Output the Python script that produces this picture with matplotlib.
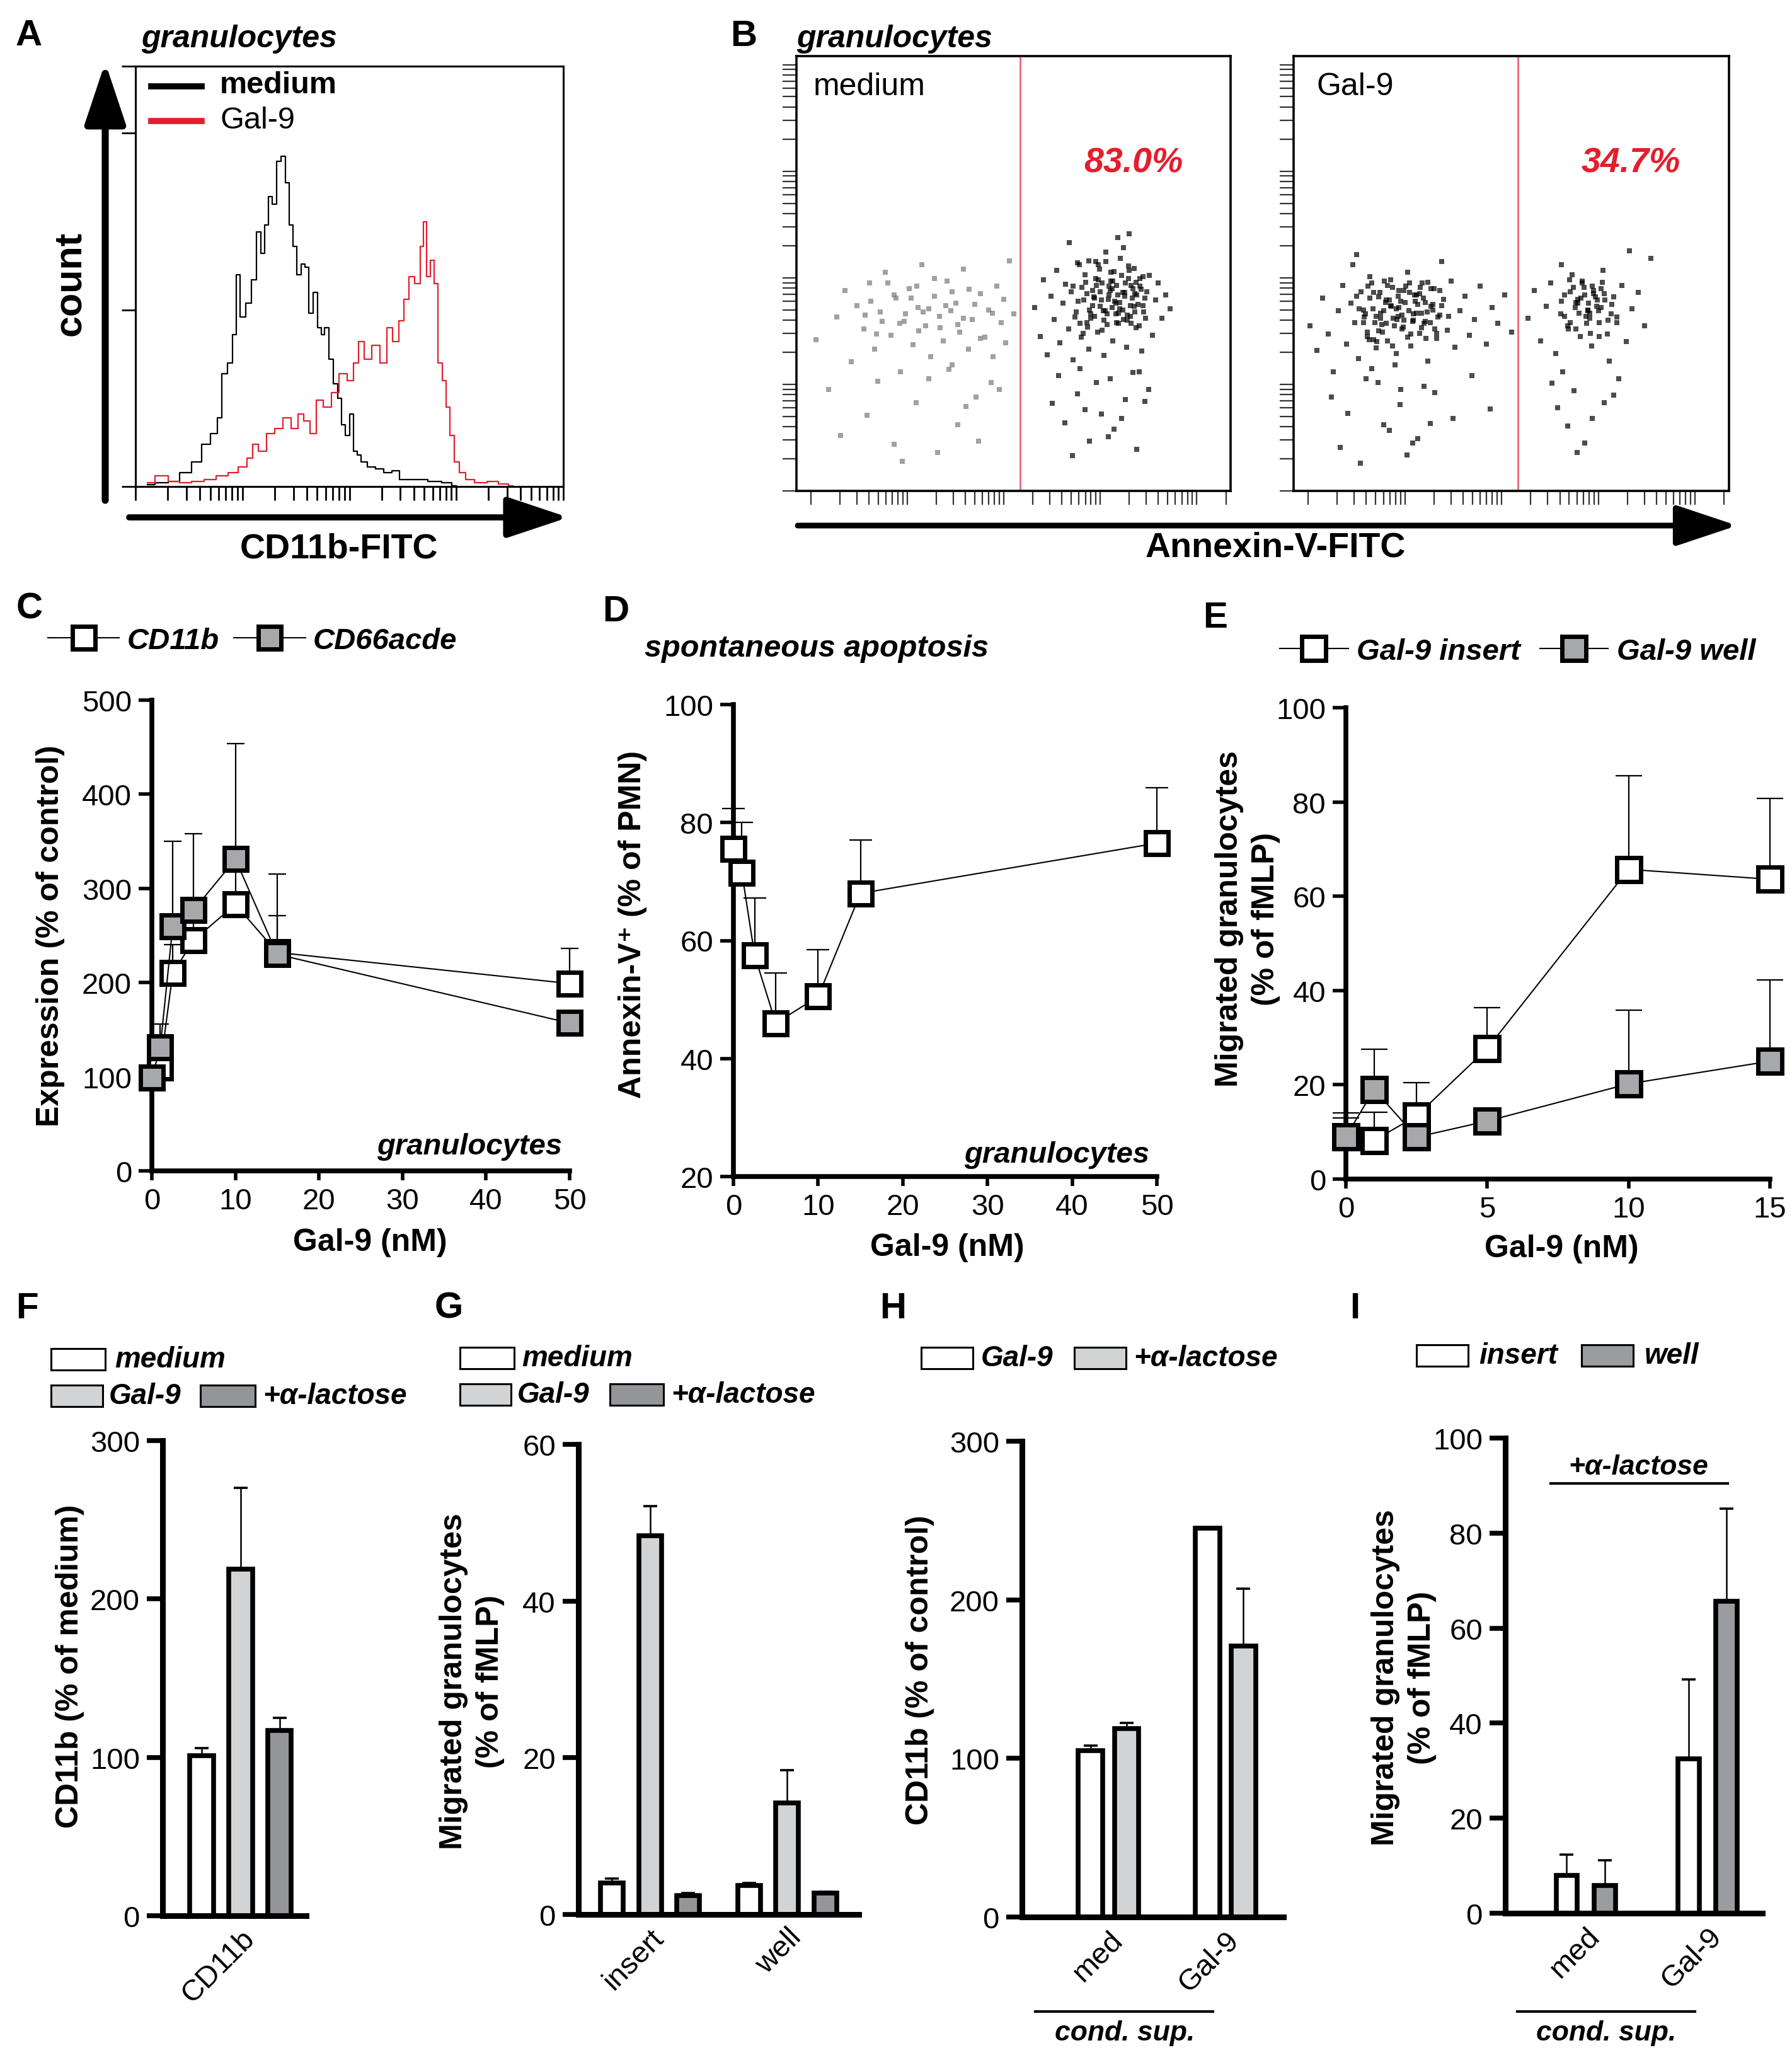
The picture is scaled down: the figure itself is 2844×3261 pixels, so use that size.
import numpy as np
import matplotlib
matplotlib.use("Agg")
import matplotlib.pyplot as plt
from matplotlib.patches import Rectangle, FancyArrowPatch
from matplotlib.lines import Line2D

W, H = 2844, 3262
plt.rcParams['font.family'] = ['Liberation Sans', 'DejaVu Sans']

# ---- A: CD11b histogram (x in log decades) ----
count_x_medium = [0.11,0.25,0.36,0.47,0.58,0.66,0.74,0.79,0.83,0.89,0.92,0.96,1.00,1.06,1.11,1.15,1.19,1.23,1.26,1.30,
                  1.34,1.38,1.42,1.45,1.49,1.53,1.57,1.60,1.64,1.68,1.72,1.75,1.79,1.83,1.87,1.91,1.94,1.98,2.02,2.06,
                  2.09,2.13,2.21,2.28,2.36,2.43,2.51,2.66,2.81,2.92,3.00]
count_medium = [0.5,1,1.5,4,7,12,15,19.5,32,35,43,60,48,52,58.5,72,66,74,82,80,
                92,93.5,86,74,68,60,63,62,49,55,45,43,45,36,29,25,17.5,14.5,20.5,10,
                9,7,5.5,5,4,4.5,2,2,1.5,1,0.2]
count_x_gal9 = [0.11,0.25,0.36,0.47,0.58,0.70,0.81,0.92,1.00,1.08,1.11,1.19,1.26,1.34,1.42,1.49,1.55,1.60,1.66,1.72,
                1.79,1.87,1.94,2.02,2.06,2.11,2.17,2.25,2.32,2.38,2.43,2.49,2.53,2.58,2.64,2.68,2.70,2.74,2.77,2.81,
                2.85,2.89,2.92,2.96,3.00,3.06,3.11,3.23,3.34,3.45,3.53]
count_gal9 = [1,3,1.5,1,1.5,2,3,4,5.5,8,12,10,15,16.5,19.5,16.5,20.5,18.5,15,24.5,
              22.5,26.5,32,30,35,41,36,40,35,45,41,47,53,59.5,57.5,68,75,59.5,64,57.5,
              35,30,22.5,14.5,7,4,2,1,1.5,0.8,0.2]

# ---- B: Annexin-V dot plots (log decades) ----
med_neg_x = [0.05,0.18,0.27,0.35,0.42,0.48,0.55,0.61,0.66,0.72,0.77,0.83,0.88,0.93,0.97,1.02,1.06,1.11,1.15,1.19,
             1.24,1.28,1.33,1.37,1.41,1.46,1.50,1.54,1.58,1.63,1.67,1.71,1.76,1.80,1.84,1.89,1.93,1.97,2.02,2.06,
             2.10,0.31,0.58,0.86,1.09,1.31,1.52,1.74,1.95,0.69,1.22,1.61,0.95,1.43,1.87,
             0.62,0.74,0.86,0.98,1.10,1.22,1.34,1.46,1.58,1.70,0.68,0.80,0.92,1.04,1.16,1.28,1.40,1.52,1.64,1.76,
             1.88,2.00,0.56,1.12,1.45]
med_neg_y = [1.42,0.95,1.63,1.88,1.21,1.74,1.52,1.95,1.33,1.68,2.05,1.46,1.81,1.12,1.59,1.90,1.37,1.72,2.12,1.55,
             1.26,1.83,1.64,1.41,1.97,1.18,1.76,1.49,2.08,1.33,1.61,0.88,1.85,1.44,1.70,1.26,1.92,1.58,1.39,2.16,
             1.66,0.52,0.71,0.44,0.83,0.36,0.62,0.47,0.95,1.03,1.05,0.79,0.28,1.14,1.02,
             1.78,1.59,1.84,1.66,1.92,1.71,1.53,1.87,1.62,1.75,1.47,1.95,1.57,1.81,1.68,1.99,1.74,1.56,1.89,1.43,
             1.67,1.80,1.65,1.50,1.69]
med_pos_x = [2.32,2.38,2.41,2.45,2.49,2.52,2.55,2.58,2.61,2.64,2.67,2.70,2.72,2.75,2.78,2.80,2.83,2.85,2.88,2.90,
             2.92,2.95,2.97,3.00,3.02,3.04,3.07,3.09,3.11,3.13,3.15,3.17,3.19,3.21,3.23,3.25,3.27,3.29,3.31,3.33,
             3.35,3.37,3.39,3.41,3.43,3.45,3.48,3.51,3.54,3.57,3.60,3.64,3.68,3.72,2.86,2.94,3.03,3.12,3.20,3.28,
             3.36,3.44,2.98,3.16,3.32,3.06,3.24,2.79,3.40,3.10,2.50,2.63,2.76,2.89,3.01,3.14,3.26,3.38,3.50,2.57,
             2.71,2.84,2.96,3.08,3.22,3.34,3.46,2.68,3.18,3.30,
             2.74,2.81,2.87,2.93,2.99,3.05,3.11,3.17,3.23,3.29,3.35,3.41,3.47,2.77,2.84,2.90,2.96,3.02,3.08,3.14,
             3.20,3.26,3.32,3.38,3.44,2.72,2.79,2.86,2.92,2.98,3.04,3.10,3.16,3.22,3.28,3.34,3.40,3.46,2.82,2.89,
             2.95,3.01,3.07,3.13,3.19,3.25,3.31,3.37,2.76,2.88,3.00,3.12,3.24,3.36,2.94,3.06,3.18,3.30,3.42,3.09]
med_pos_y = [1.72,1.45,1.98,1.28,1.83,1.61,2.07,1.39,1.76,1.94,1.52,1.87,1.23,1.68,2.12,1.44,1.79,1.96,1.33,1.62,
             1.88,2.15,1.49,1.73,1.95,1.27,1.66,1.84,2.05,1.41,1.78,1.93,1.57,2.18,1.70,1.86,1.35,1.99,1.64,1.81,
             2.09,1.53,1.75,1.92,1.31,1.68,1.87,2.02,1.46,1.79,1.95,1.62,1.84,1.71,1.58,1.81,1.69,1.90,1.77,1.60,
             1.85,1.74,1.98,1.66,1.93,2.24,2.28,1.15,1.12,1.05,0.82,0.64,0.91,0.47,0.72,0.58,0.86,0.39,0.95,1.08,
             0.33,0.76,1.02,0.51,0.68,1.11,0.84,2.33,2.38,2.41,
             1.63,1.91,1.54,1.82,2.08,1.69,1.97,1.58,1.86,2.11,1.73,1.99,1.62,1.78,2.03,1.66,1.93,1.51,1.80,2.06,
             1.71,1.95,1.57,1.84,2.01,1.92,1.57,1.85,1.74,2.12,1.60,1.88,1.76,2.02,1.65,1.90,1.55,1.81,1.48,1.70,
             1.99,1.79,1.56,1.97,1.67,1.83,1.74,1.96,2.14,2.16,1.87,1.72,1.61,1.68,1.64,2.15,1.84,2.07,1.89,1.92]
gal_neg_x = [0.02,0.09,0.15,0.21,0.26,0.31,0.36,0.40,0.44,0.48,0.52,0.55,0.58,0.61,0.64,0.67,0.70,0.73,0.76,0.79,
             0.82,0.85,0.88,0.91,0.94,0.97,1.00,1.03,1.06,1.09,1.12,1.15,1.18,1.21,1.24,1.27,1.30,1.33,1.36,1.40,
             1.44,1.48,1.52,1.57,1.62,1.67,1.72,1.78,1.84,1.90,1.96,2.03,2.10,0.57,0.69,0.81,0.93,1.05,1.17,1.29,
             0.63,0.75,0.87,0.99,1.11,1.23,0.46,1.38,0.72,0.96,0.24,0.41,0.60,0.78,0.95,1.13,1.31,1.50,1.69,1.88,
             0.33,0.54,0.84,1.02,1.26,0.66,1.08,0.90,1.20,0.50,
             0.53,0.61,0.68,0.75,0.82,0.89,0.96,1.03,1.10,1.17,1.24,1.31,1.38,0.57,0.64,0.71,0.78,0.85,0.92,0.99,
             1.06,1.13,1.20,1.27,1.34,0.50,0.59,0.66,0.73,0.80,0.87,0.94,1.01,1.08,1.15,1.22,1.29,1.36,0.62,0.70,
             0.77,0.84,0.91,0.98,1.05,1.12,1.19,1.26,0.74,0.86,0.97,1.09,1.21,1.33,0.68,0.81,0.93,1.04,1.16,1.45]
gal_neg_y = [1.55,1.32,1.81,1.47,1.12,1.69,1.93,1.38,1.76,1.58,1.24,1.87,1.63,1.45,2.01,1.71,1.34,1.82,1.56,1.97,
             1.41,1.74,1.62,1.29,1.88,1.52,1.77,2.05,1.36,1.66,1.84,1.48,1.95,1.59,1.22,1.73,1.90,1.43,1.65,1.80,
             1.51,1.97,1.35,1.69,1.83,1.46,1.61,1.92,1.38,1.72,1.57,1.84,1.49,1.70,1.58,1.79,1.64,1.86,1.53,1.75,
             1.42,1.67,1.91,1.60,1.78,1.68,2.12,2.15,1.02,0.95,0.88,0.73,1.05,0.62,0.81,0.49,0.92,0.68,1.08,0.77,
             0.41,0.26,0.57,0.34,0.63,1.15,0.45,1.18,0.98,2.22,
             1.71,1.49,1.86,1.62,1.93,1.55,1.78,1.44,1.84,1.67,1.96,1.52,1.74,1.58,1.81,1.40,1.69,1.98,1.61,1.88,
             1.47,1.75,1.57,1.90,1.63,1.83,1.66,1.95,1.50,1.77,1.36,1.72,1.92,1.59,1.85,1.43,1.70,1.88,1.92,1.64,
             1.49,1.79,1.71,1.54,1.95,1.67,1.81,1.58,1.86,1.73,1.65,1.60,1.77,1.48,1.42,1.57,1.83,1.69,1.91,1.64]
gal_pos_x = [2.27,2.34,2.40,2.46,2.51,2.56,2.61,2.65,2.69,2.73,2.77,2.81,2.85,2.89,2.93,2.97,3.01,3.05,3.09,3.14,
             3.19,3.24,3.29,3.35,3.41,3.48,3.54,2.79,2.87,2.95,3.03,2.71,2.83,2.91,2.99,3.11,2.63,3.21,2.75,2.58,
             2.68,2.86,3.06,2.52,2.94,3.16,2.78,3.32,2.62,2.90,
             2.62,2.68,2.74,2.80,2.86,2.92,2.98,3.04,3.10,3.16,2.65,2.71,2.77,2.83,2.89,2.95,3.01,3.07,3.13,3.19,
             2.70,2.76,2.82,2.88,2.94,3.00,3.06,2.79,2.91,3.03]
gal_pos_y = [1.62,1.88,1.41,1.73,1.95,1.29,1.66,1.84,1.52,2.03,1.77,1.45,1.91,1.69,1.36,1.82,1.58,2.07,1.47,1.75,
             1.63,1.93,1.40,1.71,1.86,1.55,2.18,1.80,1.64,1.85,1.72,1.58,1.97,1.67,1.79,1.22,1.12,1.05,0.94,0.78,
             0.61,0.45,0.83,1.01,0.68,0.90,0.36,2.25,2.12,1.76,
             1.78,1.55,1.91,1.67,1.84,1.48,1.73,1.96,1.60,1.82,1.64,1.87,1.52,1.95,1.70,1.88,1.45,1.79,1.66,1.58,
             1.98,1.72,1.81,1.57,1.92,1.69,1.85,1.76,1.62,1.90]
gate = 2.17
pct_medium, pct_gal9 = "83.0%", "34.7%"

# ---- C ----
gal9_c = [0, 1, 2.5, 5, 10, 15, 50]
cd11b_mean = [99, 110, 210, 245, 283, 232, 199]
cd11b_err = [5, 20, 30, 25, 40, 39, 37]
cd66_mean = [99, 131, 260, 277, 331, 230, 157]
cd66_err = [5, 25, 90, 81, 123, 85, 10]

# ---- D ----
gal9_d = [0, 1, 2.5, 5, 10, 15, 50]
annexin_mean = [75.5, 71.5, 57.5, 46, 50.5, 68, 76.5]
annexin_err = [6.9, 8.5, 9.7, 8.5, 7.9, 9, 9.4]

# ---- E ----
gal9_e = [0, 1, 2.5, 5, 10, 15]
insert_mean = [9, 8.2, 13.4, 27.7, 65.7, 63.6]
insert_err = [5, 6, 7, 8.6, 19.8, 17.2]
well_mean = [9, 19, 8.9, 12.3, 20.2, 25]
well_err = [4, 8.5, 2, 2, 15.6, 17.2]

# ---- F ----
f_vals = [101, 219, 117]
f_err = [5, 51, 8]
# ---- G ----
g_groups = ['insert', 'well']
g_medium = [4.0, 3.7]
g_medium_err = [0.6, 0.3]
g_gal9 = [48.3, 14.2]
g_gal9_err = [3.8, 4.2]
g_lact = [2.4, 2.7]
g_lact_err = [0.3, 0.2]
# ---- H ----
h_groups = ['med', 'Gal-9']
h_gal9 = [105, 245]
h_gal9_err = [3, 0]
h_lact = [119, 171]
h_lact_err = [3.5, 36]
# ---- I ----
i_groups = ['med', 'Gal-9']
i_insert = [7.9, 32.5]
i_insert_err = [4.4, 16.7]
i_well = [5.8, 65.7]
i_well_err = [5.4, 19.4]

WHITE, LIGHT, DARK, MID = 'white', '#D1D3D4', '#939598', '#9A9C9F'
MARK_GRAY = '#A6A8AB'
RED = '#E31E2D'

fig = plt.figure(figsize=(W / 100, H / 100), dpi=100)


def rect(l, r, t, b):
    return [l / W, 1 - b / H, (r - l) / W, (b - t) / H]


def txt(x, y, s, **kw):
    kw.setdefault('ha', 'center')
    kw.setdefault('va', 'center')
    fig.text(x / W, 1 - y / H, s, **kw)


def hline(x0, x1, y, lw=3, color='k'):
    fig.add_artist(Line2D([x0 / W, x1 / W], [1 - y / H, 1 - y / H], transform=fig.transFigure, lw=lw, color=color))


def arrow(x0, y0, x1, y1, lw):
    fig.add_artist(FancyArrowPatch((x0 / W, 1 - y0 / H), (x1 / W, 1 - y1 / H), transform=fig.transFigure,
                                   arrowstyle='-|>,head_length=0.6,head_width=0.2', mutation_scale=100,
                                   lw=lw, color='k', shrinkA=0, shrinkB=0))


def legbox(x0, x1, y, color, label, tx):
    fig.add_artist(Rectangle((x0 / W, 1 - (y + 17) / H), (x1 - x0) / W, 34 / H, transform=fig.transFigure,
                             facecolor=color, edgecolor='k', lw=2.2))
    txt(tx, y, label, ha='left', fontsize=33, fontweight='bold', fontstyle='italic')


def prism(ax, spine_lw, ylen, xlen, tw):
    for s in ['top', 'right']:
        ax.spines[s].set_visible(False)
    for s in ['left', 'bottom']:
        ax.spines[s].set_linewidth(spine_lw)
    ax.tick_params(direction='out', labelsize=34, width=tw, pad=8)
    ax.tick_params(axis='y', length=ylen)
    ax.tick_params(axis='x', length=xlen)


LET = dict(fontsize=42, fontweight='bold')
LAB = dict(fontsize=36, fontweight='bold')
BI = dict(fontweight='bold', fontstyle='italic')
LEGPROP = dict(size=34, weight='bold', style='italic')

# ================= A =================
axA = fig.add_axes(rect(215, 894, 106, 773))
axA.plot(count_x_medium, count_medium, color='k', lw=1.6, drawstyle='steps-mid')
axA.plot(count_x_gal9, count_gal9, color=RED, lw=1.6, drawstyle='steps-mid')
axA.set_xlim(0, 4)
axA.set_ylim(0, 119)
axA.set_xticks([np.log10(m) + k for k in range(4) for m in range(1, 10)] + [4])
axA.set_yticks([0, 50, 100, 119])
axA.set_xticklabels([])
axA.set_yticklabels([])
axA.tick_params(direction='out', length=16, width=2)
for s in axA.spines.values():
    s.set_linewidth(2.2)
hline(240, 320, 138, lw=7, color='k')
hline(240, 320, 193, lw=7, color=RED)
txt(349, 136, 'medium', ha='left', fontsize=35, fontweight='bold')
txt(349, 191, 'Gal-9', ha='left', fontsize=35)
txt(112, 450, 'count', rotation=90, fontsize=44, fontweight='bold')
txt(538, 871, 'CD11b-FITC', fontsize=40, fontweight='bold')
txt(224, 62, 'granulocytes', ha='left', fontsize=36, **BI)
txt(46, 57, 'A', **LET)
arrow(167, 795, 167, 100, 8)
arrow(205, 822, 902, 822, 7)

# ================= B =================
dec_ticks = [np.log10(m) + k for k in range(5) for m in range(1, 10)]
for l, r, nx, ny, px_, py_, name, pct, tx in [
        (1264, 1953, med_neg_x, med_neg_y, med_pos_x, med_pos_y, 'medium', pct_medium, 1291),
        (2053, 2744, gal_neg_x, gal_neg_y, gal_pos_x, gal_pos_y, 'Gal-9', pct_gal9, 2089)]:
    ax = fig.add_axes(rect(l, r, 90, 780))
    neg_color = '#7A7A7A' if name == 'medium' else 'k'
    ax.scatter(nx, ny, s=30, marker='s', color=neg_color, lw=0, alpha=0.7)
    ax.scatter(px_, py_, s=30, marker='s', color='k', lw=0, alpha=0.7)
    ax.axvline(gate, color='#F06478', lw=2)
    ax.set_xlim(-0.15, 4.35)
    ax.set_ylim(0, 4.08)
    ax.set_xticks([t for t in dec_ticks if -0.15 <= t <= 4.35])
    ax.set_yticks([t for t in dec_ticks if t <= 4.08])
    ax.set_xticklabels([])
    ax.set_yticklabels([])
    ax.tick_params(direction='out', length=16, width=1.6, color='#333333')
    for s in ax.spines.values():
        s.set_linewidth(2.6)
    txt(tx, 138, name, ha='left', fontsize=36)
    txt((l + r) / 2 + 190, 260, pct, fontsize=40, color=RED, **BI)
txt(1264, 62, 'granulocytes', ha='left', fontsize=36, **BI)
txt(1180, 58, 'B', **LET)
txt(2024, 869, 'Annexin-V-FITC', fontsize=40, fontweight='bold')
arrow(1266, 835, 2757, 835, 6.5)

# ================= C =================
axC = fig.add_axes(rect(241, 904, 1112, 1859))


def series(ax, x, y, e, face, z, ms=26, cap=10):
    eb = ax.errorbar(x, y, yerr=[np.zeros(len(e)), e], fmt='none', ecolor='k', elinewidth=1.6,
                     capsize=cap, capthick=1.6, zorder=z)
    for a in eb.get_children():
        a.set_clip_on(False)
    ax.plot(x, y, color='k', lw=1.5, zorder=z, clip_on=False)
    ax.plot(x, y, ls='none', marker='s', ms=ms, mfc=face, mec='k', mew=5, zorder=z + 0.5, clip_on=False)
    return Line2D([], [], color='k', lw=1.5, marker='s', ms=ms, mfc=face, mec='k', mew=5)


hC1 = series(axC, gal9_c, cd11b_mean, cd11b_err, 'white', 3)
hC2 = series(axC, gal9_c, cd66_mean, cd66_err, MARK_GRAY, 5)
axC.set_xlim(0, 50)
axC.set_ylim(0, 500)
axC.set_xticks(range(0, 51, 10))
axC.set_yticks(range(0, 501, 100))
prism(axC, 5.5, 15, 11, 4)
fig.legend([hC1, hC2], ['CD11b', 'CD66acde'], loc='center left', bbox_to_anchor=(76 / W, 1 - 1018 / H),
           ncol=2, frameon=False, prop=LEGPROP, handlelength=2.4, handletextpad=0.26,
           columnspacing=0.5, borderpad=0, borderaxespad=0)
txt(892, 1820, 'granulocytes', ha='right', fontsize=34, **BI)
txt(47, 967, 'C', **LET)
txt(80, 1485, 'Expression (% of control)', rotation=90, **LAB)
txt(587, 1972, 'Gal-9 (nM)', **LAB)

# ================= D =================
axD = fig.add_axes(rect(1164, 1836, 1119, 1868))
series(axD, gal9_d, annexin_mean, annexin_err, 'white', 3, cap=13)
axD.set_xlim(0, 50)
axD.set_ylim(20, 100)
axD.set_xticks(range(0, 51, 10))
axD.set_yticks(range(20, 101, 20))
prism(axD, 5.5, 15, 11, 4)
txt(977, 971, 'D', **LET)
txt(1023, 1029, 'spontaneous apoptosis', ha='left', fontsize=35, **BI)
txt(1824, 1833, 'granulocytes', ha='right', fontsize=34, **BI)
txt(1004, 1467, 'Annexin-V\u207a (% of PMN)', rotation=90, **LAB)
txt(1503, 1980, 'Gal-9 (nM)', **LAB)

# ================= E =================
axE = fig.add_axes(rect(2136, 2809, 1124, 1872))
hE1 = series(axE, gal9_e, insert_mean, insert_err, 'white', 3, ms=27, cap=15)
hE2 = series(axE, gal9_e, well_mean, well_err, MARK_GRAY, 5, ms=27, cap=15)
axE.set_xlim(0, 15)
axE.set_ylim(0, 100)
axE.set_xticks([0, 5, 10, 15])
axE.set_yticks(range(0, 101, 20))
prism(axE, 5.5, 15, 11, 4)
fig.legend([hE1, hE2], ['Gal-9 insert', 'Gal-9 well'], loc='center left', bbox_to_anchor=(2031 / W, 1 - 1035 / H),
           ncol=2, frameon=False, prop=LEGPROP, handlelength=2.3, handletextpad=0.28,
           columnspacing=0.66, borderpad=0, borderaxespad=0)
txt(1929, 981, 'E', **LET)
txt(1980, 1458, 'Migrated granulocytes\n(% of fMLP)', rotation=90, linespacing=1.35, **LAB)
txt(2478, 1982, 'Gal-9 (nM)', **LAB)


# ================= bar panels =================
def bar_panel(ax, series_list, gap, width, xlim, ylim, yticks, ticks, labels):
    for i, (vals, errs, color) in enumerate(series_list):
        x = [g * gap + i for g in range(len(vals))]
        ax.errorbar(x, vals, yerr=[np.zeros(len(vals)), errs], fmt='none', ecolor='k',
                    elinewidth=1.8, capsize=8, capthick=2.6, zorder=1)
        ax.bar(x, vals, width, color=color, edgecolor='k', lw=5.5, zorder=2)
    ax.set_xlim(*xlim)
    ax.set_ylim(*ylim)
    ax.set_yticks(yticks)
    prism(ax, 6.5, 18, 0, 5.5)
    ax.set_xticks(ticks)
    ax.set_xticklabels(labels, rotation=45, ha='right', rotation_mode='anchor', fontsize=34)
    ax.tick_params(axis='x', pad=10)


axF = fig.add_axes(rect(258, 486, 2287, 3041))
bar_panel(axF, [([f_vals[0]], [f_err[0]], WHITE)], 1, 0.6, (-1.0, 2.68), (0, 300), range(0, 301, 100), [1], ['CD11b'])
for i, c in [(1, LIGHT), (2, DARK)]:
    axF.errorbar([i], [f_vals[i]], yerr=[[0], [f_err[i]]], fmt='none', ecolor='k', elinewidth=1.8,
                 capsize=8, capthick=2.6, zorder=1)
    axF.bar([i], [f_vals[i]], 0.6, color=c, edgecolor='k', lw=5.5, zorder=2)
legbox(81, 167, 2158, WHITE, 'medium', 182)
legbox(81, 163, 2216, LIGHT, 'Gal-9', 173)
legbox(318, 405, 2216, DARK, '+\u03b1-lactose', 417)
txt(43, 2077, 'F', **LET)
txt(111, 2644, 'CD11b (% of medium)', rotation=90, **LAB)

axG = fig.add_axes(rect(918, 1363, 2293, 3039))
bar_panel(axG, [(g_medium, g_medium_err, WHITE), (g_gal9, g_gal9_err, LIGHT), (g_lact, g_lact_err, DARK)],
          3.6, 0.6, (-0.88, 6.48), (0, 60), range(0, 61, 20), [1, 4.6], g_groups)
legbox(730, 816, 2156, WHITE, 'medium', 828)
legbox(730, 811, 2214, LIGHT, 'Gal-9', 821)
legbox(968, 1053, 2214, DARK, '+\u03b1-lactose', 1065)
txt(712, 2077, 'G', **LET)
txt(749, 2668, 'Migrated granulocytes\n(% of fMLP)', rotation=90, linespacing=1.35, **LAB)

axH = fig.add_axes(rect(1622, 2037, 2288, 3043))
bar_panel(axH, [(h_gal9, h_gal9_err, WHITE), (h_lact, h_lact_err, LIGHT)],
          3.25, 0.68, (-1.91, 5.37), (0, 300), range(0, 301, 100), [0.5, 3.75], h_groups)
legbox(1462, 1544, 2156, WHITE, 'Gal-9', 1557)
legbox(1705, 1787, 2156, LIGHT, '+\u03b1-lactose', 1799)
txt(1417, 2077, 'H', **LET)
txt(1460, 2650, 'CD11b (% of control)', rotation=90, **LAB)
hline(1643, 1925, 3193, lw=3)
txt(1785, 3227, 'cond. sup.', fontsize=32, **BI)

axI = fig.add_axes(rect(2389, 2797, 2283, 3037))
bar_panel(axI, [(i_insert, i_insert_err, WHITE), (i_well, i_well_err, MID)],
          3.19, 0.56, (-1.61, 5.13), (0, 100), range(0, 101, 20), [0.5, 3.69], i_groups)
legbox(2248, 2330, 2152, WHITE, 'insert', 2347)
legbox(2510, 2592, 2152, MID, 'well', 2610)
txt(2150, 2077, 'I', **LET)
txt(2228, 2662, 'Migrated granulocytes\n(% of fMLP)', rotation=90, linespacing=1.35, **LAB)
hline(2461, 2742, 2355, lw=3)
txt(2600, 2328, '+\u03b1-lactose', fontsize=32, **BI)
hline(2408, 2690, 3193, lw=3)
txt(2549, 3227, 'cond. sup.', fontsize=32, **BI)

fig.savefig('out.png', dpi=100)
